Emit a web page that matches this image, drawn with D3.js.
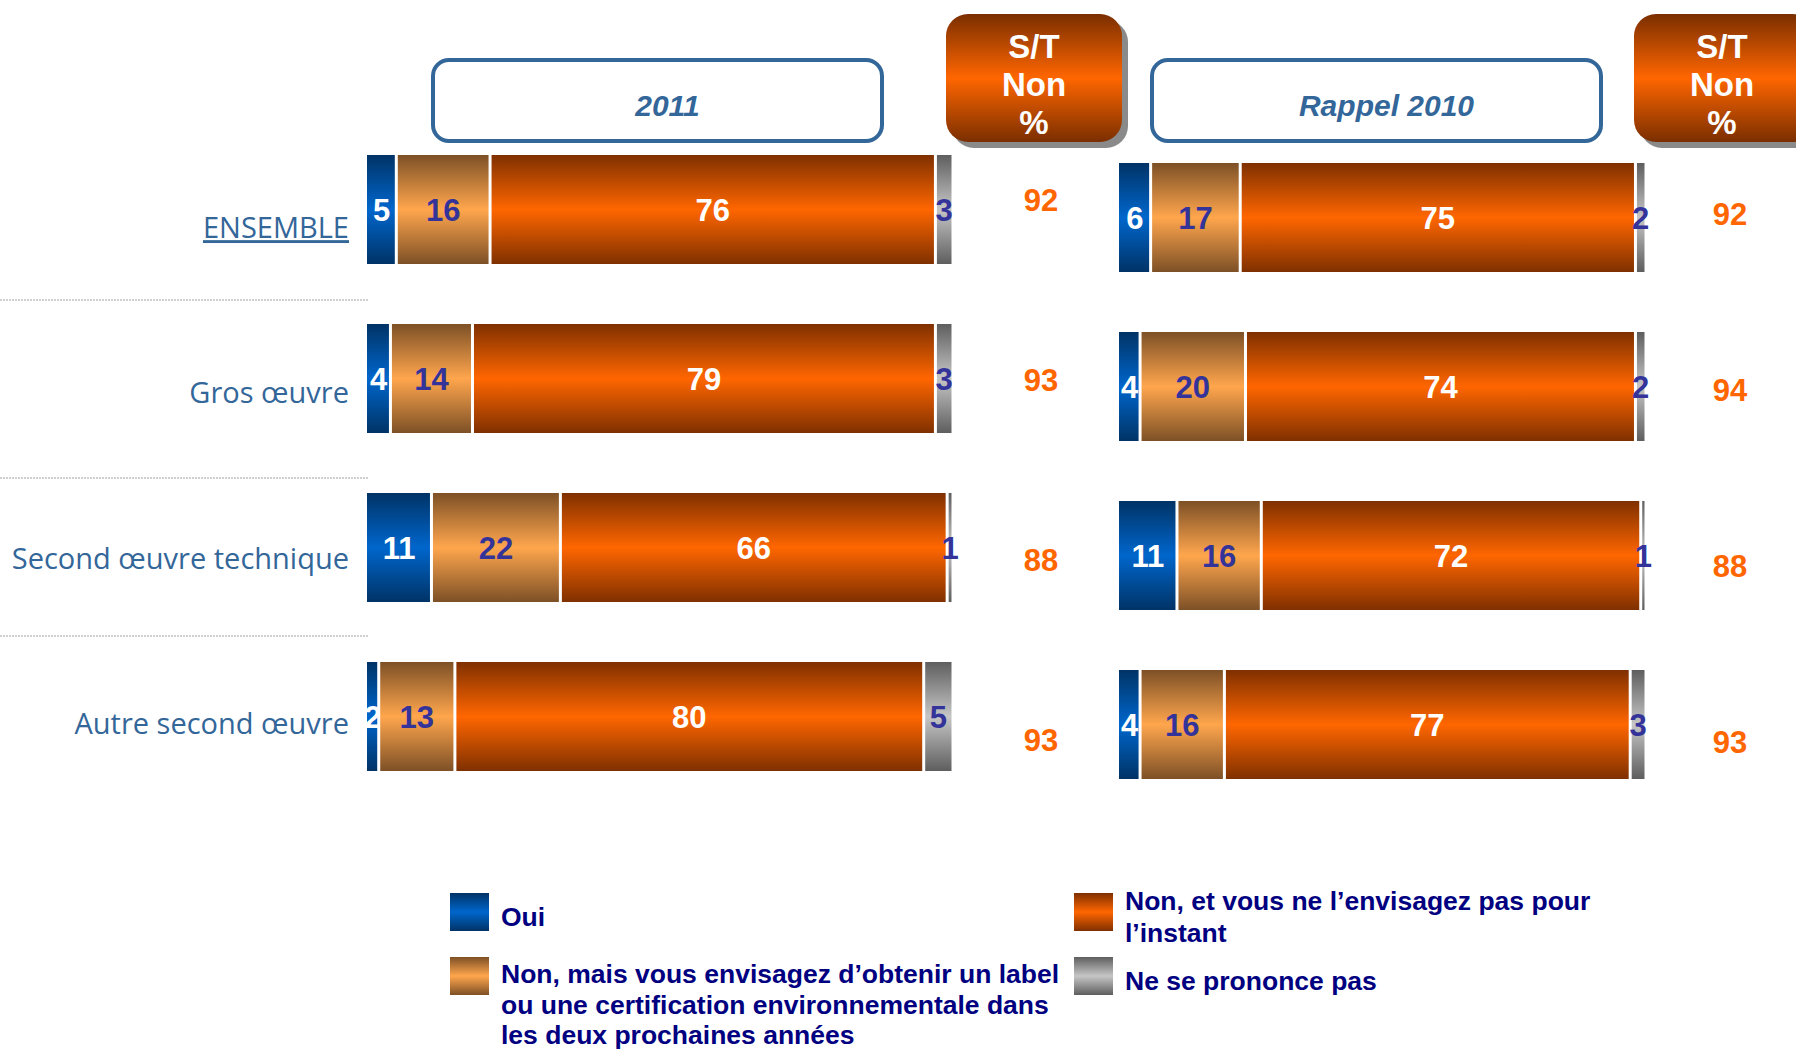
<!DOCTYPE html>
<html>
<head>
<meta charset="utf-8">
<script src="https://cdn.jsdelivr.net/npm/d3@7"></script>
<style>
  body { margin: 0; background: #fff; }
  svg { display: block; }
  .narrow { font-family: "Liberation Sans Narrow", "Arial Narrow", "Liberation Sans", Arial, sans-serif; font-weight: bold; }
</style>
</head>
<body>
<div id="plot"></div>
<script>
// categories and series
const categories = ["ENSEMBLE", "Gros œuvre", "Second œuvre technique", "Autre second œuvre"];
const series = [
    "Oui",
    "Non, mais vous envisagez d’obtenir un label ou une certification environnementale dans les deux prochaines années",
    "Non, et vous ne l’envisagez pas pour l’instant",
    "Ne se prononce pas"
];
// values per category, in series order
const values2011 = [[5, 16, 76, 3], [4, 14, 79, 3], [11, 22, 66, 1], [2, 13, 80, 5]];
const values2010 = [[6, 17, 75, 2], [4, 20, 74, 2], [11, 16, 72, 1], [4, 16, 77, 3]];
const stNon2011 = [92, 93, 88, 93];
const stNon2010 = [92, 94, 88, 93];
const panelTitles = ["2011", "Rappel 2010"];

const width = 1796, height = 1049;
const svg = d3.select("#plot").append("svg")
    .attr("width", width)
    .attr("height", height);

const defs = svg.append("defs");
// vertical gradients: dark edge -> light middle -> dark edge
const grads = [
    { id: "g0", edge: "#003366", mid: "#0066cc" },
    { id: "g1", edge: "#7d5026", mid: "#ffa64d" },
    { id: "g2", edge: "#7f3000", mid: "#ff6600" },
    { id: "g3", edge: "#5e5e5e", mid: "#c6c6c6" },
    { id: "gst", edge: "#7a2e00", mid: "#ff6600" }
];
grads.forEach(g => {
    const lg = defs.append("linearGradient").attr("id", g.id)
        .attr("x1", 0).attr("y1", 0).attr("x2", 0).attr("y2", 1);
    lg.append("stop").attr("offset", "0%").attr("stop-color", g.edge);
    lg.append("stop").attr("offset", "50%").attr("stop-color", g.mid);
    lg.append("stop").attr("offset", "100%").attr("stop-color", g.edge);
});
const labelColors = ["#ffffff", "#333399", "#ffffff", "#333399"];

// category labels
const yLabel = d3.scalePoint().domain(categories).range([228, 724]);
svg.selectAll("text.cat")
    .data(categories)
    .enter()
    .append("text")
    .attr("class", "cat")
    .attr("x", 349)
    .attr("y", d => yLabel(d))
    .attr("dy", "0.35em")
    .attr("text-anchor", "end")
    .attr("font-family", "'Open Sans', 'Noto Sans', sans-serif")
    .attr("font-size", 29)
    .attr("fill", "#336699")
    .style("text-decoration", (d, i) => i === 0 ? "underline" : null)
    .text(d => d);

// dotted separators
svg.selectAll("line.sep")
    .data([300, 478, 636])
    .enter()
    .append("line")
    .attr("x1", 0).attr("x2", 369)
    .attr("y1", d => d).attr("y2", d => d)
    .attr("stroke", "#a0a0a0")
    .attr("stroke-width", 1)
    .attr("stroke-dasharray", "2,1");

const panels = [
    { title: panelTitles[0], values: values2011, st: stNon2011, x0: 367, x1: 953, yr: [125, 801],
      box: [433, 60, 449, 81], stBox: [946, 14, 176, 128], stCx: 1034, stY: [200, 740], stX: 1041 },
    { title: panelTitles[1], values: values2010, st: stNon2010, x0: 1119, x1: 1646, yr: [133, 809],
      box: [1152, 60, 449, 81], stBox: [1634, 14, 180, 128], stCx: 1722, stY: [214, 742], stX: 1730 }
];

panels.forEach(p => {
    const g = svg.append("g");
    const x = d3.scaleLinear().domain([0, 100]).range([p.x0, p.x1]);
    const y = d3.scaleBand().domain(categories).range(p.yr).paddingInner(0.355).paddingOuter(0.1775);

    // title box
    g.append("rect")
        .attr("x", p.box[0]).attr("y", p.box[1])
        .attr("width", p.box[2]).attr("height", p.box[3])
        .attr("rx", 16)
        .attr("fill", "#fff")
        .attr("stroke", "#336699")
        .attr("stroke-width", 4);
    g.append("text")
        .attr("class", "narrow")
        .attr("x", p.box[0] + p.box[2] / 2 + 10)
        .attr("y", p.box[1] + p.box[3] / 2 + 5)
        .attr("dy", "0.36em")
        .attr("text-anchor", "middle")
        .attr("font-size", 30)
        .attr("font-style", "italic")
        .attr("fill", "#336699")
        .text(p.title);

    // S/T Non header
    g.append("rect")
        .attr("x", p.stBox[0] + 6).attr("y", p.stBox[1] + 6)
        .attr("width", p.stBox[2]).attr("height", p.stBox[3])
        .attr("rx", 22)
        .attr("fill", "#8a8a8a");
    g.append("rect")
        .attr("x", p.stBox[0]).attr("y", p.stBox[1])
        .attr("width", p.stBox[2]).attr("height", p.stBox[3])
        .attr("rx", 22)
        .attr("fill", "url(#gst)");
    ["S/T", "Non", "%"].forEach((t, i) => {
        g.append("text")
            .attr("class", "narrow")
            .attr("x", p.stCx)
            .attr("y", p.stBox[1] + 32 + i * 38)
            .attr("dy", "0.36em")
            .attr("text-anchor", "middle")
            .attr("font-size", 33)
            .attr("fill", "#fff")
            .text(t);
    });

    // stacked bars
    p.values.forEach((row, ci) => {
        let cum = 0;
        row.forEach((v, si) => {
            const a = x(cum), b = x(cum + v);
            const first = si === 0;
            g.append("rect")
                .attr("x", first ? a : a + 1.5)
                .attr("y", y(categories[ci]))
                .attr("width", Math.max(1, b - a - (first ? 1.5 : 3)))
                .attr("height", y.bandwidth())
                .attr("fill", `url(#g${si})`);
            g.append("text")
                .attr("class", "narrow")
                .attr("x", (a + b) / 2)
                .attr("y", y(categories[ci]) + y.bandwidth() / 2)
                .attr("dy", "0.36em")
                .attr("text-anchor", "middle")
                .attr("font-size", 31)
                .attr("fill", labelColors[si])
                .text(v);
            cum += v;
        });
    });

    // S/T Non values
    const ySt = d3.scalePoint().domain(categories).range(p.stY);
    g.selectAll("text.st")
        .data(p.st)
        .enter()
        .append("text")
        .attr("class", "narrow st")
        .attr("x", p.stX)
        .attr("y", (d, i) => ySt(categories[i]))
        .attr("dy", "0.36em")
        .attr("text-anchor", "middle")
        .attr("font-size", 31)
        .attr("fill", "#ff6600")
        .text(d => d);
});

// legend
const legendItems = [
    { s: 0, x: 450, y: 893, lines: [series[0]], ty: [916] },
    { s: 1, x: 450, y: 957, lines: ["Non, mais vous envisagez d’obtenir un label", "ou une certification environnementale dans", "les deux prochaines années"], ty: [973, 1004, 1034] },
    { s: 2, x: 1074, y: 893, lines: ["Non, et vous ne l’envisagez pas pour", "l’instant"], ty: [900, 932] },
    { s: 3, x: 1074, y: 957, lines: [series[3]], ty: [980] }
];
const lg = svg.append("g");
legendItems.forEach(it => {
    lg.append("rect")
        .attr("x", it.x).attr("y", it.y)
        .attr("width", 39).attr("height", 38)
        .attr("fill", `url(#g${it.s})`);
    it.lines.forEach((t, i) => {
        lg.append("text")
            .attr("class", "narrow")
            .attr("x", it.x + 51)
            .attr("y", it.ty[i])
            .attr("dy", "0.36em")
            .attr("font-size", 26.5)
            .attr("fill", "#000080")
            .text(t);
    });
});
</script>
</body>
</html>
